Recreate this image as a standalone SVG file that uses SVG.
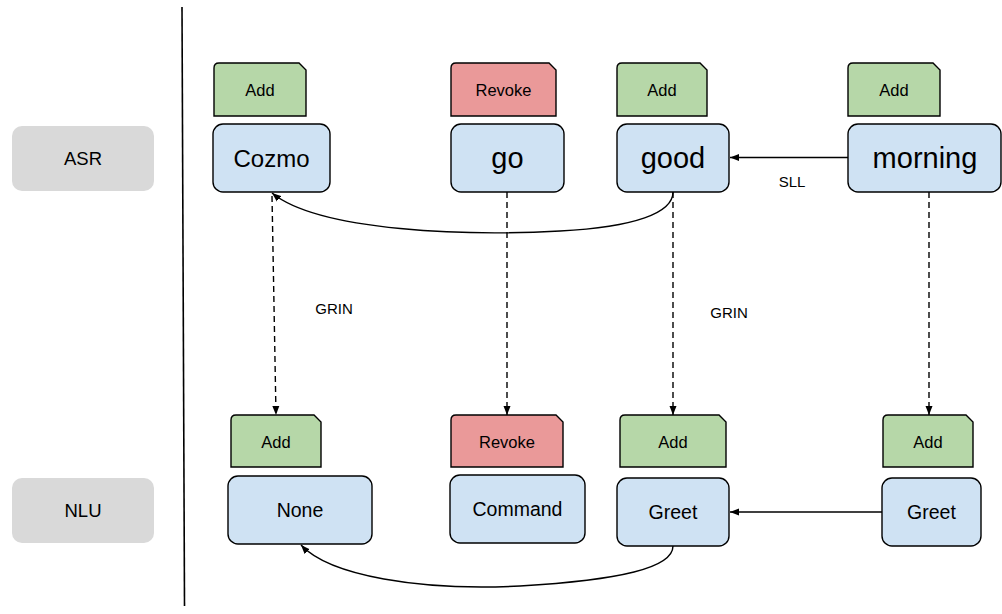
<svg xmlns="http://www.w3.org/2000/svg" width="1002" height="614" viewBox="0 0 1002 614">
  <style>
    text { font-family: "Liberation Sans", Arial, sans-serif; fill: #000; text-anchor: middle; }
    .lane { fill: #d9d9d9; }
    .lane-t { font-size: 18.5px; }
    .word { fill: #cfe2f3; stroke: #000; stroke-width: 1.4; }
    .add { fill: #b6d7a8; stroke: #000; stroke-width: 1.4; }
    .revoke { fill: #ea9999; stroke: #000; stroke-width: 1.4; }
    .tag-t { font-size: 16.5px; }
    .big { font-size: 29px; }
    .asr-t { font-size: 24px; }
    .nlu-t { font-size: 19.5px; }
    .lbl { font-size: 15px; }
    .edge { fill: none; stroke: #000; stroke-width: 1.4; }
    .dash { stroke-dasharray: 6 4; }
  </style>
  <defs>
    <marker id="arrow" markerUnits="userSpaceOnUse" markerWidth="10" markerHeight="8" refX="9" refY="4" orient="auto">
      <path d="M0,0.5 L9,4 L0,7.5 Z" fill="#000"/>
    </marker>
  </defs>

  <rect width="1002" height="614" fill="#fff"/>

  <!-- lane headers and divider -->
  <g id="lane-asr">
    <rect class="lane" x="12" y="126" width="142" height="65" rx="10"/>
    <text class="lane-t" x="83" y="165">ASR</text>
  </g>
  <g id="lane-nlu">
    <rect class="lane" x="12" y="478" width="142" height="65" rx="10"/>
    <text class="lane-t" x="83" y="517">NLU</text>
  </g>
  <line id="divider" x1="182" y1="7" x2="184.5" y2="606" stroke="#000" stroke-width="1.6"/>

  <!-- ASR row -->
  <g id="tag-cozmo">
    <path class="add" d="M214,116 V68 Q214,63 219,63 H299 L306,70 V116 Z"/>
    <text class="tag-t" x="260" y="95.5">Add</text>
  </g>
  <g id="asr-cozmo">
    <rect class="word" x="213" y="124" width="117" height="68" rx="10"/>
    <text class="asr-t" x="271.5" y="166.5">Cozmo</text>
  </g>
  <g id="tag-go">
    <path class="revoke" d="M451,116 V68 Q451,63 456,63 H549 L556,70 V116 Z"/>
    <text class="tag-t" x="503.5" y="95.5">Revoke</text>
  </g>
  <g id="asr-go">
    <rect class="word" x="451" y="124" width="113" height="68" rx="10"/>
    <text class="big" x="507.5" y="168">go</text>
  </g>
  <g id="tag-good">
    <path class="add" d="M617,116 V68 Q617,63 622,63 H700 L707,70 V116 Z"/>
    <text class="tag-t" x="662" y="95.5">Add</text>
  </g>
  <g id="asr-good">
    <rect class="word" x="617" y="124" width="112" height="68" rx="10"/>
    <text class="big" x="673" y="168">good</text>
  </g>
  <g id="tag-morning">
    <path class="add" d="M848,116 V68 Q848,63 853,63 H933 L940,70 V116 Z"/>
    <text class="tag-t" x="894" y="95.5">Add</text>
  </g>
  <g id="asr-morning">
    <rect class="word" x="848" y="124" width="153" height="68" rx="10"/>
    <text class="big" x="925" y="168">morning</text>
  </g>

  <!-- NLU row -->
  <g id="tag-none">
    <path class="add" d="M231,467 V420 Q231,415 236,415 H314 L321,422 V467 Z"/>
    <text class="tag-t" x="276" y="447.5">Add</text>
  </g>
  <g id="nlu-none">
    <rect class="word" x="228" y="476" width="144" height="68" rx="10"/>
    <text class="nlu-t" x="300" y="517">None</text>
  </g>
  <g id="tag-command">
    <path class="revoke" d="M451,467 V420 Q451,415 456,415 H556 L563,422 V467 Z"/>
    <text class="tag-t" x="507" y="447.5">Revoke</text>
  </g>
  <g id="nlu-command">
    <rect class="word" x="450" y="475" width="135" height="68" rx="10"/>
    <text class="nlu-t" x="517.5" y="516">Command</text>
  </g>
  <g id="tag-greet1">
    <path class="add" d="M620,467 V420 Q620,415 625,415 H719 L726,422 V467 Z"/>
    <text class="tag-t" x="673" y="447.5">Add</text>
  </g>
  <g id="nlu-greet1">
    <rect class="word" x="617" y="478" width="112" height="68" rx="10"/>
    <text class="nlu-t" x="673" y="519">Greet</text>
  </g>
  <g id="tag-greet2">
    <path class="add" d="M883,467 V420 Q883,415 888,415 H966 L973,422 V467 Z"/>
    <text class="tag-t" x="928" y="447.5">Add</text>
  </g>
  <g id="nlu-greet2">
    <rect class="word" x="882" y="478" width="99" height="68" rx="10"/>
    <text class="nlu-t" x="931.5" y="519">Greet</text>
  </g>

  <!-- connectors -->
  <g id="connectors">
    <line class="edge" x1="848" y1="157.5" x2="730" y2="157.5" marker-end="url(#arrow)"/>
    <line class="edge" x1="882" y1="512" x2="730" y2="512" marker-end="url(#arrow)"/>
    <path class="edge" d="M673,192 C673,213 635,227 560,231 C470,236 320,232 272,193" marker-end="url(#arrow)"/>
    <path class="edge" d="M673,546 C673,568 620,580 520,586 C420,591 330,576 301,545" marker-end="url(#arrow)"/>
    <line class="edge dash" x1="272" y1="196" x2="276" y2="415" marker-end="url(#arrow)"/>
    <line class="edge dash" x1="507" y1="192" x2="507" y2="415" marker-end="url(#arrow)"/>
    <line class="edge dash" x1="673" y1="192" x2="673" y2="415" marker-end="url(#arrow)"/>
    <line class="edge dash" x1="929" y1="192" x2="929" y2="415" marker-end="url(#arrow)"/>
    <text class="lbl" x="792" y="187">SLL</text>
    <text class="lbl" x="334" y="314">GRIN</text>
    <text class="lbl" x="729" y="318">GRIN</text>
  </g>
</svg>
